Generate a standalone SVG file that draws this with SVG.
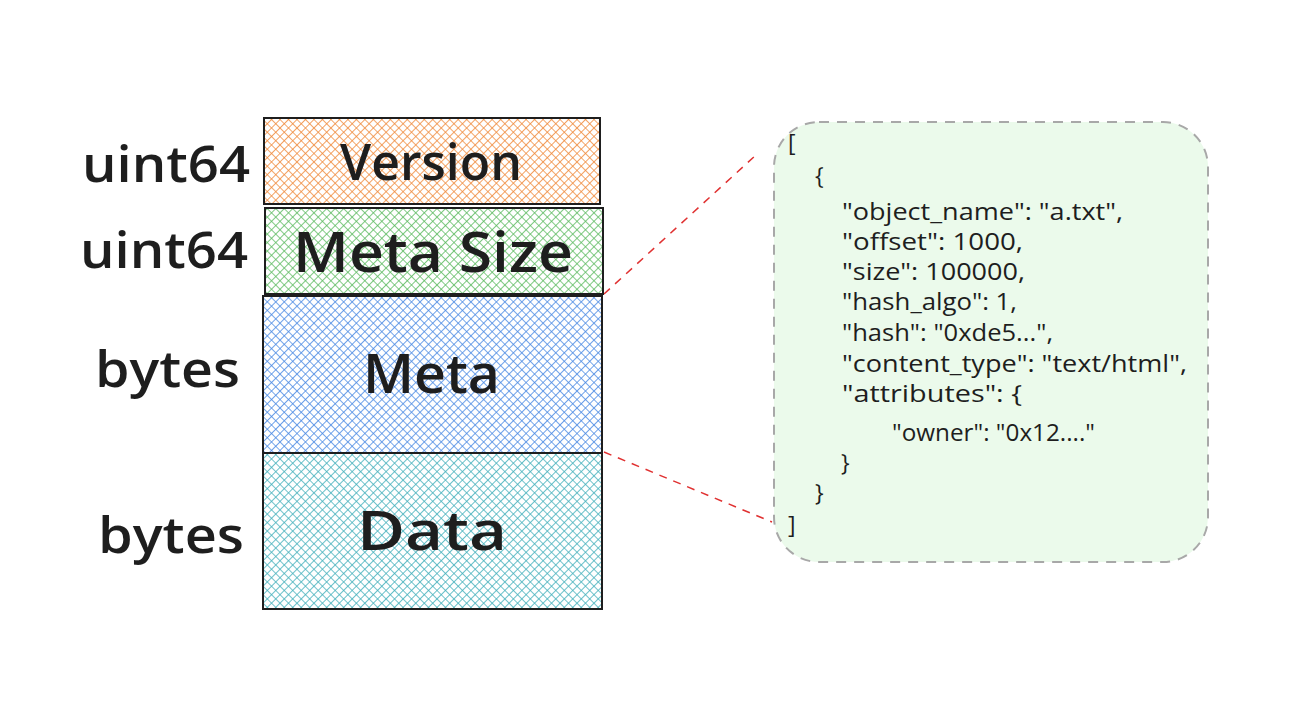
<svg xmlns="http://www.w3.org/2000/svg" width="1290" height="724" viewBox="0 0 1290 724">
<defs>
<pattern id="hOrange" width="6" height="6" patternUnits="userSpaceOnUse" patternTransform="rotate(45)"><rect width="6" height="6" fill="#ffffff"/><path d="M0 0V6M0 0H6" stroke="#f08a3a" stroke-width="1.6"/></pattern>
<pattern id="hGreen" width="6" height="6" patternUnits="userSpaceOnUse" patternTransform="rotate(45)"><rect width="6" height="6" fill="#ffffff"/><path d="M0 0V6M0 0H6" stroke="#5cba60" stroke-width="1.6"/></pattern>
<pattern id="hBlue" width="6" height="6" patternUnits="userSpaceOnUse" patternTransform="rotate(45)"><rect width="6" height="6" fill="#ffffff"/><path d="M0 0V6M0 0H6" stroke="#4a8ae4" stroke-width="1.6"/></pattern>
<pattern id="hTeal" width="6" height="6" patternUnits="userSpaceOnUse" patternTransform="rotate(45)"><rect width="6" height="6" fill="#ffffff"/><path d="M0 0V6M0 0H6" stroke="#43b0bc" stroke-width="1.6"/></pattern>
</defs>
<style>
.box{stroke:#1e1e1e;stroke-width:2}
.big{font-family:"Open Sans","Liberation Sans",sans-serif;fill:#1e1e1e;font-weight:600}
.lbl{font-family:"Open Sans","Liberation Sans",sans-serif;fill:#1e1e1e;font-size:50px;font-weight:600}
.code{font-family:"Open Sans","Liberation Sans",sans-serif;fill:#1e1e1e;font-size:23px;font-weight:500}
.dash{stroke:#e03131;stroke-width:1.5;stroke-dasharray:8 7;fill:none}
</style>
<rect width="1290" height="724" fill="#ffffff"/>
<g id="connectors">
<path class="dash" d="M604 294L756 155"/>
<path class="dash" d="M604 452L772 522"/>
</g>
<g id="labels">
<text class="lbl" x="82" y="182" textLength="168" lengthAdjust="spacingAndGlyphs">uint64</text>
<text class="lbl" x="80" y="268" textLength="168" lengthAdjust="spacingAndGlyphs">uint64</text>
<text class="lbl" x="95" y="387" textLength="145" lengthAdjust="spacingAndGlyphs">bytes</text>
<text class="lbl" x="98" y="553" textLength="146" lengthAdjust="spacingAndGlyphs">bytes</text>
</g>
<g id="version">
<rect class="box" x="264" y="118" width="336" height="86" fill="url(#hOrange)"/>
<text class="big" x="340" y="180" font-size="50" textLength="182" lengthAdjust="spacingAndGlyphs">Version</text>
</g>
<g id="metasize">
<rect class="box" x="265" y="208" width="338" height="86" fill="url(#hGreen)"/>
<text class="big" x="293" y="272" font-size="56" textLength="280" lengthAdjust="spacingAndGlyphs">Meta Size</text>
</g>
<g id="meta">
<rect class="box" x="263" y="296" width="339" height="157" fill="url(#hBlue)"/>
<text class="big" x="363" y="393" font-size="54" textLength="137" lengthAdjust="spacingAndGlyphs">Meta</text>
</g>
<g id="data">
<rect class="box" x="263" y="453" width="339" height="156" fill="url(#hTeal)"/>
<text class="big" x="357" y="550" font-size="54" textLength="150" lengthAdjust="spacingAndGlyphs">Data</text>
</g>
<g id="json">
<rect x="774" y="122" width="434" height="440" rx="45" fill="#ebfaeb" stroke="#a8a8a8" stroke-width="2" stroke-dasharray="10 8"/>
<text class="code" x="788" y="151">[</text>
<text class="code" x="815" y="184">{</text>
<text class="code" x="842" y="220" textLength="281" lengthAdjust="spacingAndGlyphs">"object_name": "a.txt",</text>
<text class="code" x="842" y="250" textLength="181" lengthAdjust="spacingAndGlyphs">"offset": 1000,</text>
<text class="code" x="842" y="280" textLength="183" lengthAdjust="spacingAndGlyphs">"size": 100000,</text>
<text class="code" x="842" y="310" textLength="175" lengthAdjust="spacingAndGlyphs">"hash_algo": 1,</text>
<text class="code" x="842" y="341" textLength="211" lengthAdjust="spacingAndGlyphs">"hash": "0xde5...",</text>
<text class="code" x="842" y="372" textLength="345" lengthAdjust="spacingAndGlyphs">"content_type": "text/html",</text>
<text class="code" x="842" y="402" textLength="180" lengthAdjust="spacingAndGlyphs">"attributes": {</text>
<text class="code" x="892" y="441" textLength="203" lengthAdjust="spacingAndGlyphs">"owner": "0x12...."</text>
<text class="code" x="841" y="471">}</text>
<text class="code" x="815" y="501">}</text>
<text class="code" x="788" y="533">]</text>
</g>
</svg>
